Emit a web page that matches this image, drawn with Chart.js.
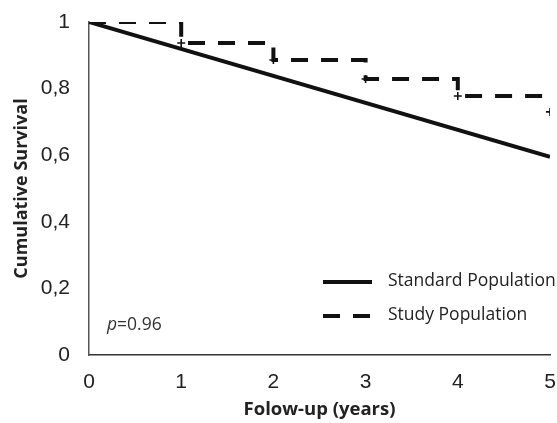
<!DOCTYPE html>
<html>
<head>
<meta charset="utf-8">
<style>
  html, body { margin: 0; padding: 0; background: #fff; }
  #wrap { width: 557px; height: 423px; position: relative; }
</style>
<script src="https://cdn.jsdelivr.net/npm/chart.js@4/dist/chart.umd.min.js"></script>
</head>
<body>
<div id="wrap"><canvas id="c" width="557" height="423"></canvas></div>
<script>
// Follow-up times (years)
const years = [0, 1, 2, 3, 4, 5];
// Expected survival of the standard population (linear decline)
const standardYears = [0, 5];
const standardSurvival = [1, 0.595];
// Kaplan-Meier estimate of the study population
const studySurvival = [1, 0.937, 0.886, 0.829, 0.778, 0.778];
// Censored observations
const censorYears = [1, 2, 3, 4, 5];
const censorSurvival = [0.937, 0.886, 0.829, 0.778, 0.73];
// Axis tick labels
const yTickLabels = ['0', '0,2', '0,4', '0,6', '0,8', '1'];
const xTickLabels = ['0', '1', '2', '3', '4', '5'];
const seriesNames = ['Standard Population', 'Study Population'];
const pValueText = '0.96';

const ink = '#111';
const textInk = '#222';

const legendPlugin = {
  id: 'insideLegend',
  afterDatasetsDraw(chart) {
    const { ctx, chartArea } = chart;
    ctx.save();
    const x0 = chartArea.left + 234;
    const rows = [chartArea.top + 260, chartArea.top + 294];
    [0, 1].forEach((i) => {
      const ds = chart.data.datasets[i];
      ctx.beginPath();
      ctx.lineWidth = 4;
      ctx.strokeStyle = ds.borderColor;
      ctx.setLineDash(i === 1 ? [17, 13] : []);
      ctx.moveTo(x0, rows[i]);
      ctx.lineTo(x0 + 49, rows[i]);
      ctx.stroke();
      ctx.setLineDash([]);
      ctx.fillStyle = textInk;
      ctx.font = '17.5px "Open Sans"';
      ctx.textBaseline = 'middle';
      ctx.textAlign = 'left';
      ctx.fillText(ds.label, x0 + 65, rows[i] - 1);
    });
    // p-value note
    const px = chartArea.left + 18;
    const py = chartArea.top + 303;
    ctx.font = 'italic 17.5px "Open Sans"';
    ctx.fillStyle = '#333';
    ctx.textBaseline = 'middle';
    ctx.fillText('p', px, py);
    const w = ctx.measureText('p').width;
    ctx.font = '17.5px "Open Sans"';
    ctx.fillText('=' + pValueText, px + w, py);
    ctx.restore();
  }
};

new Chart(document.getElementById('c'), {
  type: 'scatter',
  data: {
    datasets: [
      {
        label: seriesNames[0],
        data: standardYears.map((x, i) => ({ x, y: standardSurvival[i] })),
        showLine: true,
        borderColor: ink,
        borderWidth: 4,
        pointRadius: 0,
        order: 2
      },
      {
        label: seriesNames[1],
        data: years.map((x, i) => ({ x, y: studySurvival[i] })),
        showLine: true,
        stepped: 'before',
        borderColor: ink,
        borderWidth: 4,
        borderDash: [17, 13],
        borderCapStyle: 'butt',
        pointRadius: 0,
        order: 1
      },
      {
        label: 'Censored',
        data: censorYears.map((x, i) => ({ x, y: censorSurvival[i] })),
        showLine: false,
        pointStyle: 'cross',
        pointRadius: 4,
        borderColor: ink,
        borderWidth: 1.6,
        backgroundColor: ink,
        order: 0
      }
    ]
  },
  options: {
    responsive: false,
    animation: false,
    devicePixelRatio: 1,
    layout: { padding: { top: 22, right: 7, left: 0, bottom: 0 } },
    plugins: {
      legend: { display: false },
      tooltip: { enabled: false }
    },
    scales: {
      x: {
        type: 'linear',
        min: 0,
        max: 5,
        grid: { display: false, drawTicks: true, tickLength: 15 },
        border: { display: true, color: '#333', width: 1.5 },
        ticks: {
          stepSize: 1,
          padding: 0,
          color: textInk,
          font: { family: '"Liberation Sans", Arial', size: 21 },
          callback: (v) => xTickLabels[v]
        },
        title: {
          display: true,
          text: 'Folow-up (years)',
          color: textInk,
          font: { family: '"Open Sans"', size: 18.5, weight: 'bold' },
          padding: { top: 0, bottom: 2 }
        },
        afterFit(scale) { scale.height = 68; }
      },
      y: {
        min: 0,
        max: 1,
        grid: { display: false, drawTicks: true, tickLength: 19 },
        border: { display: true, color: '#555', width: 1.5 },
        ticks: {
          stepSize: 0.2,
          padding: 0,
          color: textInk,
          font: { family: '"Liberation Sans", Arial', size: 21 },
          callback: (v) => yTickLabels[Math.round(v * 5)]
        },
        title: {
          display: true,
          text: 'Cumulative Survival',
          color: textInk,
          font: { family: '"Open Sans"', size: 18, weight: 'bold' },
          padding: { top: 11, bottom: 0 }
        },
        afterFit(scale) { scale.width = 89; }
      }
    }
  },
  plugins: [legendPlugin]
});
</script>
</body>
</html>
